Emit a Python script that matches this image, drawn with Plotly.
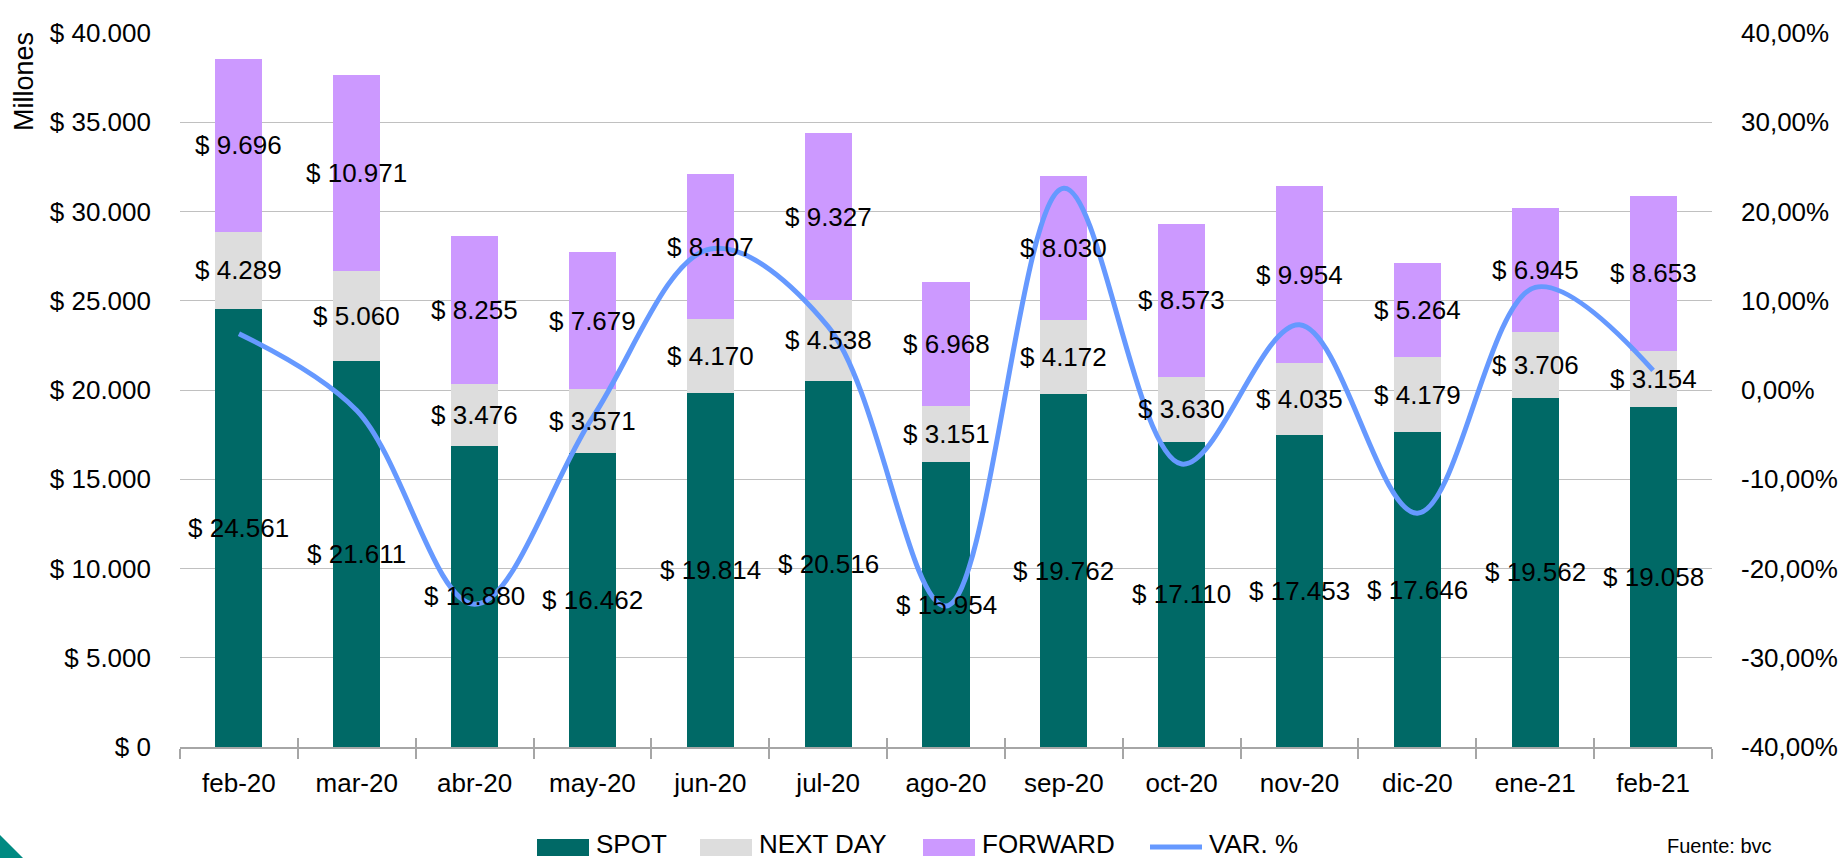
import plotly.graph_objects as go

# Monthly traded volume (COP millions) by segment, and monthly % change of the total
months = ["feb-20", "mar-20", "abr-20", "may-20", "jun-20", "jul-20", "ago-20",
          "sep-20", "oct-20", "nov-20", "dic-20", "ene-21", "feb-21"]
spot = [24561, 21611, 16880, 16462, 19814, 20516, 15954, 19762, 17110, 17453, 17646, 19562, 19058]
next_day = [4289, 5060, 3476, 3571, 4170, 4538, 3151, 4172, 3630, 4035, 4179, 3706, 3154]
forward = [9696, 10971, 8255, 7679, 8107, 9327, 6968, 8030, 8573, 9954, 5264, 6945, 8653]
var_pct = [6.3, -2.3, -24.0, -3.1, 15.8, 7.1, -24.2, 22.6, -8.3, 7.3, -13.8, 11.5, 2.2]

# Right-axis ticks (percent) and their labels
pct_ticks = [-0.4, -0.3, -0.2, -0.1, 0.0, 0.1, 0.2, 0.3, 0.4]
pct_labels = ["-40,00%", "-30,00%", "-20,00%", "-10,00%", "0,00%",
              "10,00%", "20,00%", "30,00%", "40,00%"]

series_names = ["SPOT", "NEXT DAY", "FORWARD", "VAR. %"]
colors = {"SPOT": "#006966", "NEXT DAY": "#DDDDDD", "FORWARD": "#CC99FF", "VAR. %": "#6699FF"}

FONT = "Liberation Sans, Arial, sans-serif"
FS = 26
W, H = 1841, 858
ML, MR, MT, MB = 180, 129, 33, 111
AXIS_GREY = "#A6A6A6"


def px(x):
    return (x - ML) / (W - ML - MR)


def py(y):
    return (H - MB - y) / (H - MT - MB)


def money(v):
    return "$ " + f"{v:,}".replace(",", ".")


fig = go.Figure()
for name, vals in (("SPOT", spot), ("NEXT DAY", next_day), ("FORWARD", forward)):
    fig.add_trace(go.Bar(x=months, y=vals, name=name, marker_color=colors[name],
                         marker_line_width=0, showlegend=False, hoverinfo="y"))

fig.add_trace(go.Scatter(x=months, y=[v / 100 for v in var_pct], name="VAR. %", yaxis="y2",
                         mode="lines", line=dict(color=colors["VAR. %"], width=5,
                                                 shape="spline", smoothing=1),
                         showlegend=False))

# Carrier for the upper half of the crossing category ticks
fig.add_trace(go.Scatter(x=months, y=spot, xaxis="x2", mode="none",
                         showlegend=False, hoverinfo="skip"))

# Segment value labels centred in each stacked block
annotations = []
for i, m in enumerate(months):
    base = 0
    for vals in (spot, next_day, forward):
        annotations.append(dict(x=m, y=base + vals[i] / 2, xref="x", yref="y",
                                text=money(vals[i]), showarrow=False,
                                xanchor="center", yanchor="middle",
                                font=dict(family=FONT, size=FS, color="black")))
        base += vals[i]

# Axis title
annotations.append(dict(x=px(24), y=py(82), xref="paper", yref="paper", text="Millones",
                        textangle=-90, showarrow=False, xanchor="center", yanchor="middle",
                        font=dict(family=FONT, size=27, color="black")))
# Source note
annotations.append(dict(x=px(1665), y=py(846), xref="paper", yref="paper", text="Fuente: bvc",
                        xanchor="left", yanchor="middle", showarrow=False,
                        font=dict(family=FONT, size=20, color="black")))

# Legend row
shapes = []
legend_x = {"SPOT": 537, "NEXT DAY": 700, "FORWARD": 923, "VAR. %": 1150}
for name in series_names:
    x0 = legend_x[name]
    if name == "VAR. %":
        shapes.append(dict(type="line", xref="paper", yref="paper", x0=px(x0), x1=px(x0 + 52),
                           y0=py(847), y1=py(847), line=dict(color=colors[name], width=5)))
    else:
        shapes.append(dict(type="rect", xref="paper", yref="paper", x0=px(x0), x1=px(x0 + 52),
                           y0=py(856), y1=py(839), fillcolor=colors[name], line_width=0))
    annotations.append(dict(x=px(x0 + 57), y=py(844), xref="paper", yref="paper", text=name,
                            xanchor="left", yanchor="middle", showarrow=False,
                            font=dict(family=FONT, size=FS, color="black")))

# Corner accent
shapes.append(dict(type="path", xref="paper", yref="paper",
                   path=f"M {px(0)},{py(835)} L {px(23)},{py(858)} L {px(0)},{py(858)} Z",
                   fillcolor="#008A82", line_width=0))

fig.update_layout(
    width=W, height=H,
    margin=dict(l=ML, r=MR, t=MT, b=MB, autoexpand=False),
    barmode="stack", bargap=0.6,
    plot_bgcolor="white", paper_bgcolor="white",
    separators=",.",
    font=dict(family=FONT, size=FS, color="black"),
    xaxis=dict(type="category", tickson="boundaries", ticks="outside", ticklen=10,
               tickwidth=2, tickcolor=AXIS_GREY, showline=True, linecolor=AXIS_GREY,
               linewidth=2, showgrid=False, tickfont=dict(size=FS), ticklabelstandoff=12,
               range=[-0.5, len(months) - 0.5], automargin=False),
    xaxis2=dict(type="category", overlaying="x", anchor="y", side="bottom",
                tickson="boundaries", ticks="inside", ticklen=9, tickwidth=2,
                tickcolor=AXIS_GREY, showticklabels=False, showline=False, showgrid=False,
                range=[-0.5, len(months) - 0.5], automargin=False),
    yaxis=dict(range=[0, 40000], dtick=5000, tickprefix="$ ", tickformat=",d",
               showgrid=True, gridcolor="#C0C0C0", gridwidth=1.2, zeroline=False,
               ticks="", ticklabelstandoff=28, tickfont=dict(size=FS), automargin=False),
    yaxis2=dict(range=[-0.4, 0.4], tickvals=pct_ticks, ticktext=pct_labels,
                overlaying="y", side="right", showgrid=False, zeroline=False, ticks="",
                ticklabelstandoff=28, tickfont=dict(size=FS), automargin=False),
    annotations=annotations,
    shapes=shapes,
)

fig.write_html("out.html")
